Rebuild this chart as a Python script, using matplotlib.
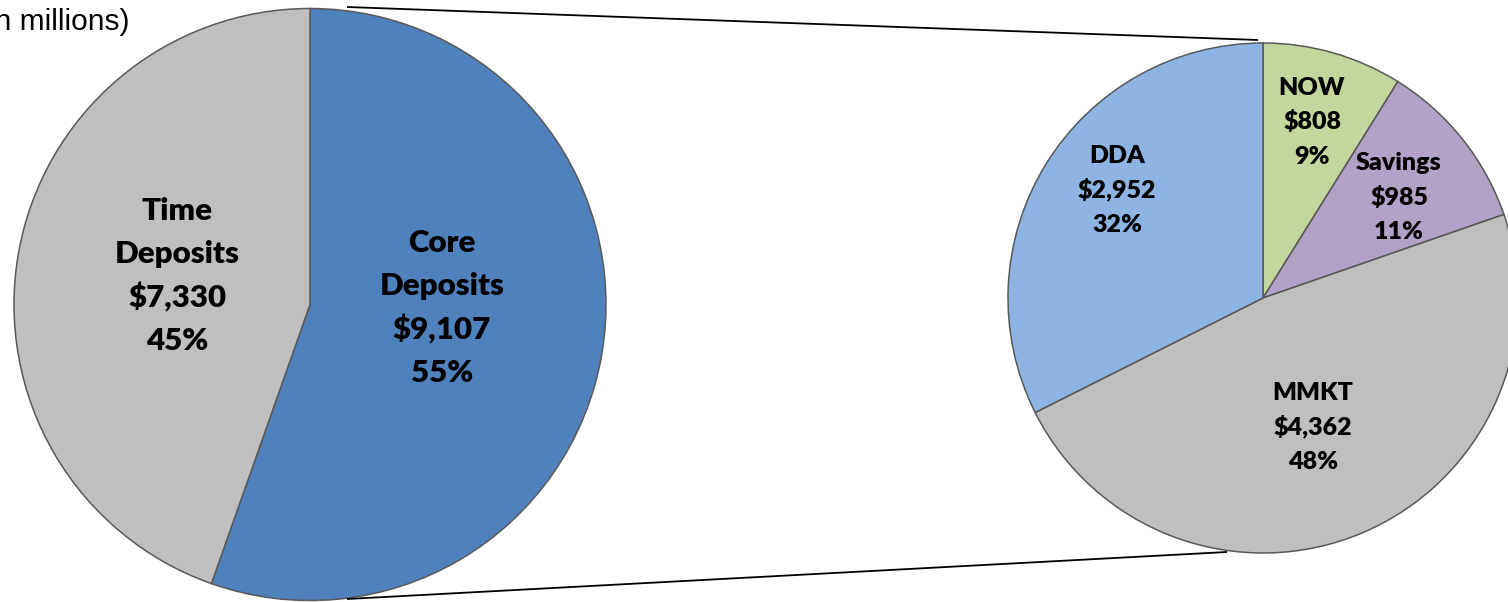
import matplotlib
matplotlib.use("Agg")
import matplotlib.pyplot as plt

# left pie: total deposits
total_labels = [["Core", "Deposits"], ["Time", "Deposits"]]
total_values = [9107, 7330]
total_pcts = [55, 45]
total_colors = ["#4F81BD", "#BFBFBF"]

# right pie: core deposit breakdown
core_labels = [["NOW"], ["Savings"], ["MMKT"], ["DDA"]]
core_values = [808, 985, 4362, 2952]
core_pcts = [9, 11, 48, 32]
core_colors = ["#C3D69B", "#B3A2C7", "#BFBFBF", "#8EB4E3"]

W, H = 1508, 602
edge = dict(edgecolor="#595959", linewidth=1.1)

fig = plt.figure(figsize=(W / 100, H / 100), dpi=100)
ax = fig.add_axes([0, 0, 1, 1])

# pie geometry in pixel space (y measured from top)
left_c, left_r = (310, 304.5), 296
right_c, right_r = (1263, 298), 255

ax.pie(total_values, colors=total_colors, startangle=90, counterclock=False,
       center=(left_c[0], H - left_c[1]), radius=left_r, wedgeprops=edge)
ax.pie(core_values, colors=core_colors, startangle=90, counterclock=False,
       center=(right_c[0], H - right_c[1]), radius=right_r, wedgeprops=edge)

ax.set_xlim(0, W)
ax.set_ylim(0, H)
ax.set_aspect("equal")
ax.axis("off")

# connector lines between the pies
ax.plot([347, 1258], [H - 7, H - 40], color="black", lw=1.3, solid_capstyle="butt")
ax.plot([347, 1227], [H - 599, H - 552], color="black", lw=1.3, solid_capstyle="butt")

lab_font = dict(family="Lato", weight="heavy", ha="center", va="baseline", color="black")


def stacked_label(x, y_first, step, lines, size):
    # one text per line so the spacing stays even
    for i, line in enumerate(lines):
        ax.text(x, H - (y_first + i * step), line, fontsize=size, **lab_font)


# first baseline of each label block
left_pos = [(442, 252), (177, 220)]
for (x, y), lab, v, p in zip(left_pos, total_labels, total_values, total_pcts):
    stacked_label(x, y, 43.3, lab + [f"${v:,}", f"{p}%"], 22.5)

right_pos = [(1312, 95), (1399, 170), (1313, 400), (1117, 163)]
for (x, y), lab, v, p in zip(right_pos, core_labels, core_values, core_pcts):
    stacked_label(x, y, 34.5, lab + [f"${v:,}", f"{p}%"], 18)

ax.text(130, H - 22, "(in millions)", fontsize=21.5, family="Liberation Sans",
        ha="right", va="center")

fig.savefig("out.png", dpi=100)
